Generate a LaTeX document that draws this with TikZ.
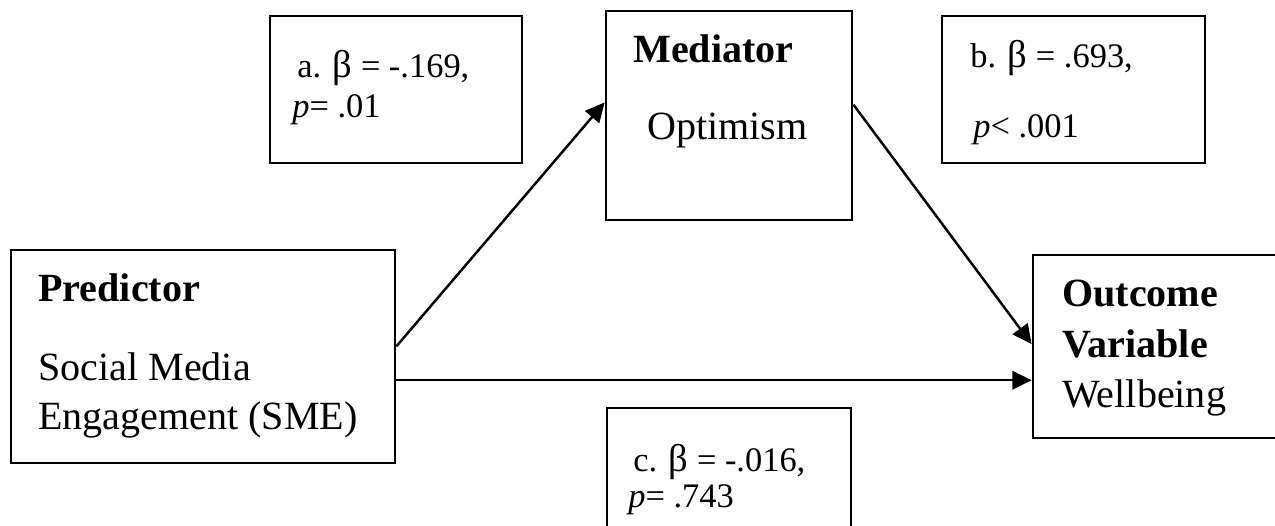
\documentclass[tikz,border=0pt]{standalone}
\usepackage{fontspec}
\setmainfont{Liberation Serif}
\usetikzlibrary{arrows.meta}

\newcommand{\betasym}{{\fontsize{22}{24}\selectfont β}}

\tikzset{
  varbox/.style={draw, line width=1.6pt, inner sep=0pt},
  arr/.style={line width=1.4pt, -{Triangle[length=11pt, width=10.5pt]}},
  lbl/.style={anchor=base west, inner sep=0pt, font=\fontsize{22.8}{27}\selectfont},
  stat/.style={anchor=base west, inner sep=0pt, font=\fontsize{19.6}{24}\selectfont},
}

\begin{document}
\begin{tikzpicture}[x=0.02cm, y=-0.02cm]
\useasboundingbox (0,0) rectangle (1275,526);
\clip (0,0) rectangle (1275,526);
% variable boxes
\node[varbox, minimum width=7.68cm, minimum height=4.26cm] (pred) at (203,356.5) {};
\node[varbox, minimum width=4.92cm, minimum height=4.18cm] (med) at (729,115.5) {};
\node[varbox, minimum width=5.34cm, minimum height=3.66cm] (out) at (1166.5,346.5) {};
% path coefficient boxes
\node[varbox, minimum width=5.04cm, minimum height=2.94cm] (apath) at (396,89.5) {};
\node[varbox, minimum width=5.26cm, minimum height=2.94cm] (bpath) at (1073.5,89.5) {};
\node[varbox, minimum width=4.88cm, minimum height=3.04cm] (cpath) at (729,484) {};
% labels
\node[lbl] (predtitle) at (38,302) {\textbf{Predictor}};
\node[lbl] (predname1) at (38,381) {Social Media};
\node[lbl] (predname2) at (38,430) {Engagement (SME)};
\node[lbl] (medtitle) at (633,63) {\textbf{Mediator}};
\node[lbl] (medname) at (647,140) {Optimism};
\node[lbl] (outtitle1) at (1062,307) {\textbf{Outcome}};
\node[lbl] (outtitle2) at (1062,358) {\textbf{Variable}};
\node[lbl] (outname) at (1062,408) {Wellbeing};
\node[stat] (abeta) at (297,78) {a. \betasym{} = -.169,};
\node[stat] (ap) at (292,118) {\textit{p}= .01};
\node[stat] (bbeta) at (970,68) {b. \betasym{} = .693,};
\node[stat] (bp) at (973,138) {\textit{p}< .001};
\node[stat] (cbeta) at (633,472) {c. \betasym{} = -.016,};
\node[stat] (cp) at (628,508) {\textit{p}= .743};
% paths
\draw[arr] (pred.3.4) -- (med.174.2);
\draw[arr] (med.5.8) -- (out.179.36);
\draw[arr] (pred.353.9) -- (pred.353.9 -| out.west);
\end{tikzpicture}
\end{document}
